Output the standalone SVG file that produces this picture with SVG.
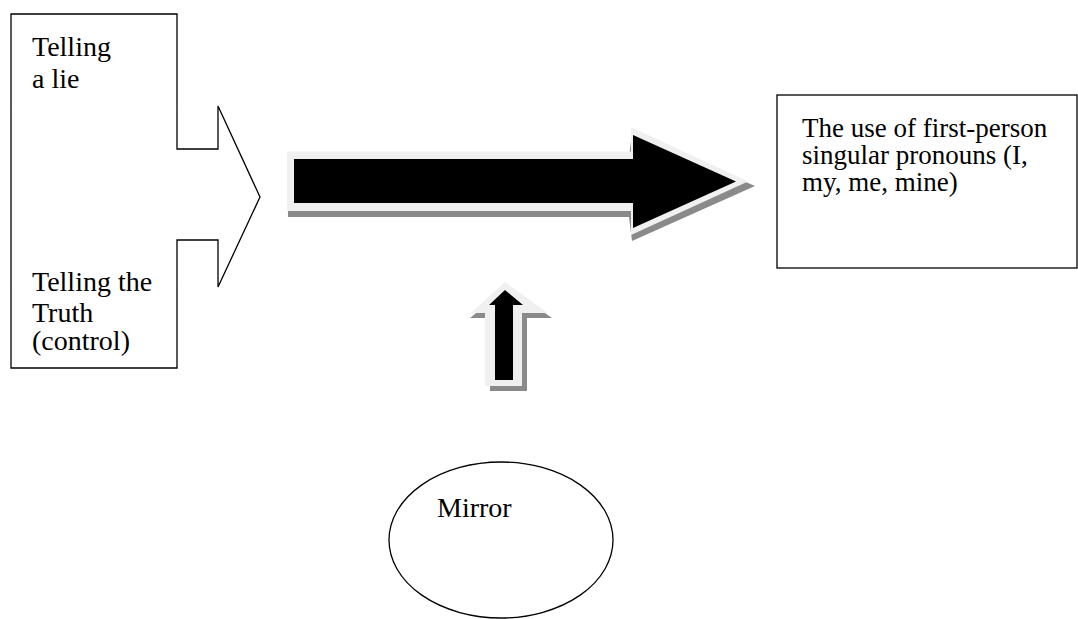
<svg xmlns="http://www.w3.org/2000/svg" width="1078" height="619" viewBox="0 0 1078 619">
  <style>
    .t { font-family: "Liberation Serif", "Times New Roman", serif; fill: #000; }
    .box { fill: #fff; stroke: #000; stroke-width: 1.3; }
    .shadow { fill: #8a8a8a; }
    .halo { fill: #f0f0f0; }
    .core { fill: #000; }
  </style>
  <rect width="1078" height="619" fill="#fff"/>

  <g id="conditions">
    <polygon class="box" points="11,14 177,14 177,149 218,149 218,106 260,197 218,287 218,240 177,240 177,368 11,368"/>
    <text class="t" font-size="28" x="32" y="56">Telling</text>
    <text class="t" font-size="28" x="32" y="88">a lie</text>
    <text class="t" font-size="28" x="32" y="291">Telling the</text>
    <text class="t" font-size="28" x="32" y="322">Truth</text>
    <text class="t" font-size="28" x="32" y="350">(control)</text>
  </g>

  <g id="outcome">
    <rect class="box" x="777" y="95" width="300" height="173"/>
    <text class="t" font-size="27" x="802" y="137">The use of first-person</text>
    <text class="t" font-size="27" x="802" y="164">singular pronouns (I,</text>
    <text class="t" font-size="27" x="802" y="191">my, me, mine)</text>
  </g>

  <g id="mirror">
    <ellipse class="box" cx="501" cy="540" rx="112" ry="78"/>
    <text class="t" font-size="28" x="437" y="517">Mirror</text>
  </g>

  <g id="connectors">
    <g id="main-arrow">
      <polygon class="shadow" points="288,157 629,157 632,133 755,186 632,241 629,217 288,217"/>
      <polygon class="halo" points="287,151.5 631,151.5 631,127 748,181.5 631,235 631,211 287,211"/>
      <polygon class="core" points="294,159 633,159 633,135 736,181.5 633,228 633,203 294,203"/>
    </g>
    <g id="mirror-arrow">
      <polygon class="shadow" points="508,287 552,318 527,318 527,391 490,391 490,318 470,318"/>
      <polygon class="halo" points="505,282 548,313 522,313 522,386 485,386 485,313 471,313"/>
      <polygon class="core" points="505,290 523,305 513,305 513,380 495,380 495,305 489,305"/>
    </g>
  </g>
</svg>
